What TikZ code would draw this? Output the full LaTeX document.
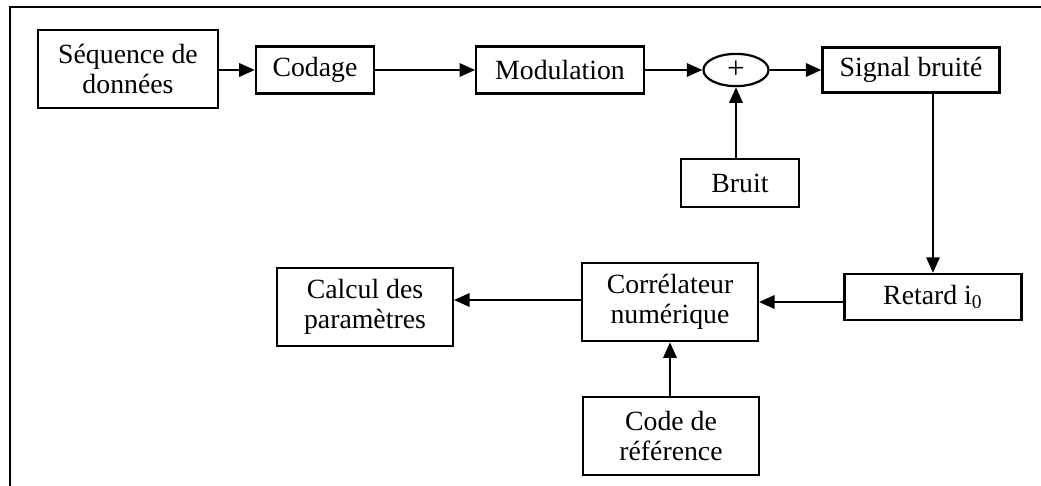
\documentclass[tikz,border=0pt]{standalone}
\usepackage{fontspec}
\setmainfont{Liberation Serif}
\usetikzlibrary{arrows.meta,positioning,shapes.geometric}
\definecolor{ink}{RGB}{0,0,0}
\tikzset{
  every picture/.style={color=ink, line width=1pt, font=\fontsize{12.5}{13.5}\selectfont},
  box/.style={draw=ink, fill=white, inner sep=3pt, align=center, minimum height=7.4mm},
  bigbox/.style={box, minimum width=27.8mm, minimum height=12.4mm},
  sumnode/.style={ellipse, draw=ink, minimum width=10.3mm, minimum height=5.1mm, inner sep=0pt},
  flow/.style={-{Triangle[length=7pt,width=6pt]}, line width=1pt},
}

\begin{document}
\begin{tikzpicture}[x=0.45pt, y=-0.45pt]
  \useasboundingbox (0,0) rectangle (1041,486);
  % open frame (top and left side only)
  \coordinate (ftl) at (10,7);
  \coordinate (ftr) at (1041,7);
  \coordinate (fbl) at (10,486);
  \draw (ftr) -- (ftl) -- (fbl);
  % top chain
  \node[box, minimum width=28.5mm, minimum height=12.3mm] (seq) at (128,69) {Séquence de\\données};
  \node[box, minimum width=18.7mm] (cod) at (315,70) {Codage};
  \node[box, minimum width=26.5mm] (mod) at (560,70) {Modulation};
  \node[sumnode] (sum) at (736,70) {\fontsize{14}{14}\selectfont +};
  \node[box, minimum width=28mm, minimum height=7.1mm] (sig) at (911,70) {Signal bruité};
  \node[box, minimum width=18.7mm, minimum height=7.6mm] (bru) at (740,183) {Bruit};
  % bottom chain
  \node[box, minimum width=28mm, minimum height=7.3mm] (ret) at (933,297) {Retard i\textsubscript{0}};
  \node[bigbox] (cor) at (670,302) {Corrélateur\\numérique};
  \node[bigbox] (cal) at (365,307) {Calcul des\\paramètres};
  \node[bigbox] (ref) at (671,436) {Code de\\référence};
  % connectors
  \draw[flow] (seq.east |- cod) -- (cod);
  \draw[flow] (cod) -- (mod);
  \draw[flow] (mod) -- (sum);
  \draw[flow] (sum) -- (sig);
  \draw[flow] (bru.north -| sum) -- (sum);
  \draw[flow] (sig.south -| ret) -- (ret);
  \draw[flow] (ret.west |- cor) -- (cor);
  \draw[flow] (cor.west |- 0,300) -- (cal.east |- 0,300);
  \draw[flow] (ref.north -| cor) -- (cor);
\end{tikzpicture}
\end{document}
